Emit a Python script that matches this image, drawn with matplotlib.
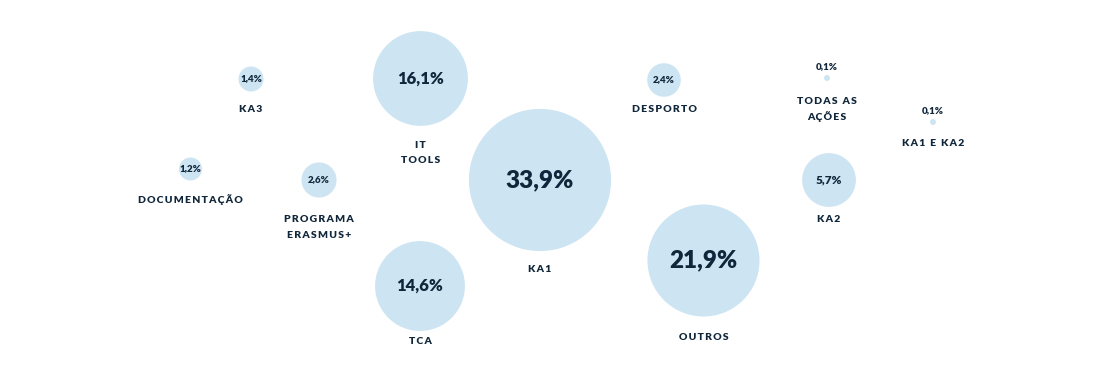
"""Bubble chart of shares per action"""

import matplotlib.pyplot as plt
from matplotlib.patches import Circle

categories = [
    "KA1",
    "OUTROS",
    "IT\nTOOLS",
    "TCA",
    "KA2",
    "PROGRAMA\nERASMUS+",
    "DESPORTO",
    "KA3",
    "DOCUMENTAÇÃO",
    "TODAS AS\nAÇÕES",
    "KA1 E KA2",
]
shares = [33.9, 21.9, 16.1, 14.6, 5.7, 2.6, 2.4, 1.4, 1.2, 0.1, 0.1]

# layout in canvas pixels (1100 x 380), y going down
centers = [
    (540, 180),
    (703.5, 260.5),
    (420.5, 78.5),
    (420, 286),
    (829, 180),
    (319, 180),
    (664, 80),
    (251, 79),
    (190.5, 169),
    (827, 78),
    (933, 122),
]
label_y = [269, 338, 145, 342, 220, 220, 110, 110, 200, 101, 144]

BUBBLE = "#cde4f2"
INK = "#10263a"
FONT = ["Lato", "DejaVu Sans"]


def radius(value):
    # bubble radius in pixels, grows a bit faster than sqrt(value)
    return 10.42 * value ** 0.545


def spaced(text, gap="\u2009"):
    return gap.join(text)


def pct_size(r):
    if r > 55:
        return 17.5
    if r > 40:
        return 12
    if r > 22:
        return 8.5
    return 7


fig = plt.figure(figsize=(11, 3.8), dpi=100)
ax = fig.add_axes([0, 0, 1, 1])
ax.set_xlim(0, 1100)
ax.set_ylim(380, 0)
ax.axis("off")

for label, value, (cx, cy), ly in zip(categories, shares, centers, label_y):
    r = radius(value)
    ax.add_patch(Circle((cx, cy), r, color=BUBBLE, lw=0))
    pct = f"{value:.1f}".replace(".", ",") + "%"
    if r > 8:
        ax.text(cx, cy, pct, ha="center", va="center", color=INK,
                fontsize=pct_size(r), fontweight="heavy", family=FONT)
    else:
        ax.text(cx, cy - 11, pct, ha="center", va="center", color=INK,
                fontsize=7, fontweight="heavy", family=FONT)
    for i, line in enumerate(label.split("\n")):
        ax.text(cx, ly + i * 15.5, spaced(line), ha="center", va="center",
                color=INK, fontsize=7.5, fontweight="heavy", family=FONT)

fig.savefig("out.png", dpi=100, facecolor="white")
